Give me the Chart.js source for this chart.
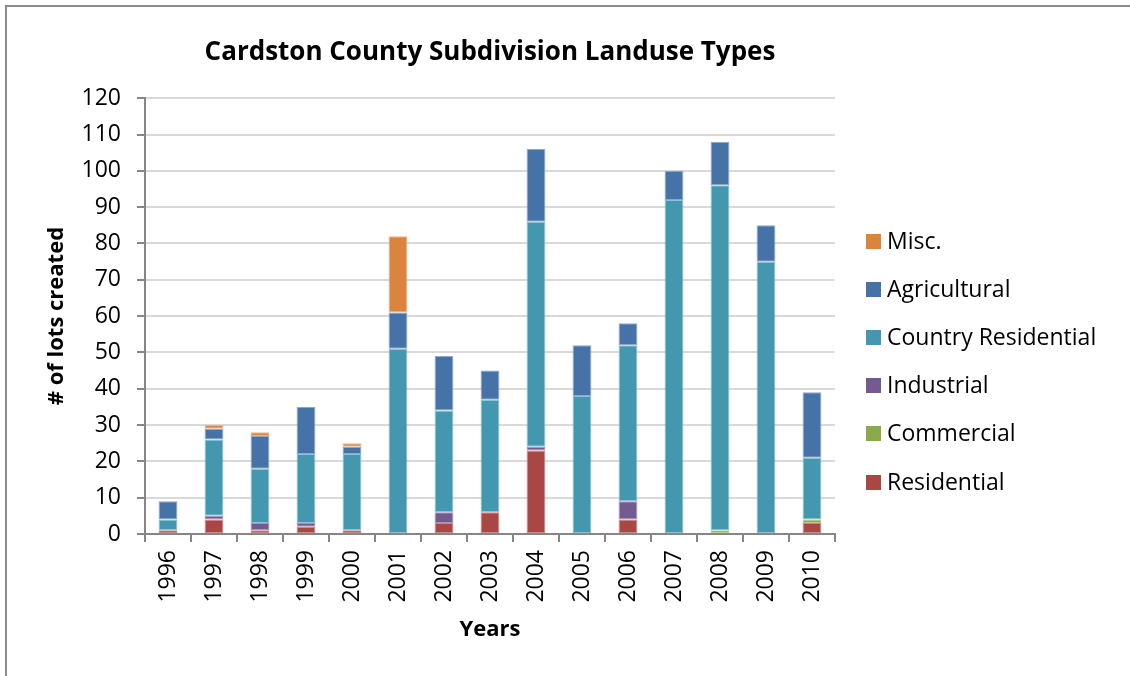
<!DOCTYPE html>
<html>
<head>
<meta charset="utf-8">
<script src="https://cdn.jsdelivr.net/npm/chart.js@4.4.0/dist/chart.umd.min.js"></script>
<style>
  body { margin: 0; background: #fff; }
  #wrap { position: relative; width: 1130px; height: 676px; }
  #frame { position: absolute; left: 5px; top: 5px; right: 0; bottom: -5px;
           border-left: 2px solid #8a8a8a; border-top: 2px solid #8a8a8a; pointer-events: none; }
  #legend { position: absolute; left: 866px; top: 0; font-family: "Open Sans", sans-serif; font-size: 23px; color: #000; }
  .item { position: absolute; left: 0; white-space: nowrap; height: 30px; line-height: 30px; }
  .box { display: inline-block; width: 15px; height: 15px; vertical-align: middle; margin-right: 6px; margin-top: -3px; }
</style>
</head>
<body>
<div id="wrap">
  <canvas id="myChart" width="1130" height="676"></canvas>
  <div id="frame"></div>
  <div id="legend"></div>
</div>
<script>
var years = ['1996','1997','1998','1999','2000','2001','2002','2003','2004','2005','2006','2007','2008','2009','2010'];
var residential = [1, 4, 1, 2, 1, 0, 3, 6, 23, 0, 4, 0, 0, 0, 3];
var commercial  = [0, 0, 0, 0, 0, 0, 0, 0, 0, 0, 0, 0, 1, 0, 1];
var industrial  = [0, 1, 2, 1, 0, 0, 3, 0, 1, 0, 5, 0, 0, 0, 0];
var countryRes  = [3, 21, 15, 19, 21, 51, 28, 31, 62, 38, 43, 92, 95, 75, 17];
var agricultural = [5, 3, 9, 13, 2, 10, 15, 8, 20, 14, 6, 8, 12, 10, 18];
var misc        = [0, 1, 1, 0, 1, 21, 0, 0, 0, 0, 0, 0, 0, 0, 0];
var yTicks = [0, 10, 20, 30, 40, 50, 60, 70, 80, 90, 100, 110, 120];

var series = [
  { label: 'Residential', data: residential, color: '#A94745', edge: '#C98987' },
  { label: 'Commercial', data: commercial, color: '#8BAA4B', edge: '#B8CC8E' },
  { label: 'Industrial', data: industrial, color: '#735A91', edge: '#A593BA' },
  { label: 'Country Residential', data: countryRes, color: '#4398AF', edge: '#8CC3D2' },
  { label: 'Agricultural', data: agricultural, color: '#4572A7', edge: '#8DA9CA' },
  { label: 'Misc.', data: misc, color: '#DA843E', edge: '#EBB487' }
];

var font = '"Open Sans", sans-serif';

var ctx = document.getElementById('myChart').getContext('2d');
new Chart(ctx, {
  type: 'bar',
  data: {
    labels: years,
    datasets: series.map(function(s) {
      return {
        label: s.label,
        data: s.data,
        backgroundColor: s.color,
        borderColor: s.edge,
        borderWidth: 1,
        borderSkipped: false,
        categoryPercentage: 1,
        barPercentage: 0.41
      };
    })
  },
  options: {
    responsive: false,
    animation: false,
    layout: { padding: { left: 0, right: 295, top: 0, bottom: 0 } },
    scales: {
      x: {
        stacked: true,
        grid: { drawOnChartArea: false, tickLength: 8, tickColor: '#868686', lineWidth: 2 },
        border: { color: '#868686', width: 2 },
        ticks: { minRotation: 90, maxRotation: 90, padding: 8, color: '#000', font: { family: font, size: 23 } },
        title: { display: true, text: 'Years', color: '#000', font: { family: font, size: 22, weight: 'bold' }, padding: { top: 0, bottom: 33 } },
        afterFit: function(scale) { scale.height = 142; }
      },
      y: {
        stacked: true,
        min: 0,
        max: 120,
        afterBuildTicks: function(scale) {
          scale.ticks = yTicks.map(function(v) { return { value: v }; });
        },
        grid: { color: '#D9D9D9', lineWidth: 2, tickLength: 8, tickColor: '#868686' },
        border: { color: '#868686', width: 2 },
        ticks: { padding: 16, color: '#000', font: { family: font, size: 23 } },
        title: { display: true, text: '# of lots created', color: '#000', font: { family: font, size: 22, weight: 'bold' }, padding: { top: 44, bottom: 0 } },
        afterFit: function(scale) { scale.width = 145; }
      }
    },
    plugins: {
      legend: { display: false },
      tooltip: { enabled: false },
      title: {
        display: true,
        fullSize: false,
        text: 'Cardston County Subdivision Landuse Types',
        color: '#000',
        font: { family: font, size: 26, weight: 'bold' },
        padding: { top: 37, bottom: 30 }
      }
    }
  }
});

// legend on the right, top entry is the last series
var legend = document.getElementById('legend');
var legendTops = [240, 288, 336, 384, 432, 481];
series.slice().reverse().forEach(function(s, i) {
  var el = document.createElement('div');
  el.className = 'item';
  el.style.top = (legendTops[i] - 15) + 'px';
  el.innerHTML = '<span class="box" style="background:' + s.color + '"></span>' + s.label;
  legend.appendChild(el);
});
</script>
</body>
</html>
